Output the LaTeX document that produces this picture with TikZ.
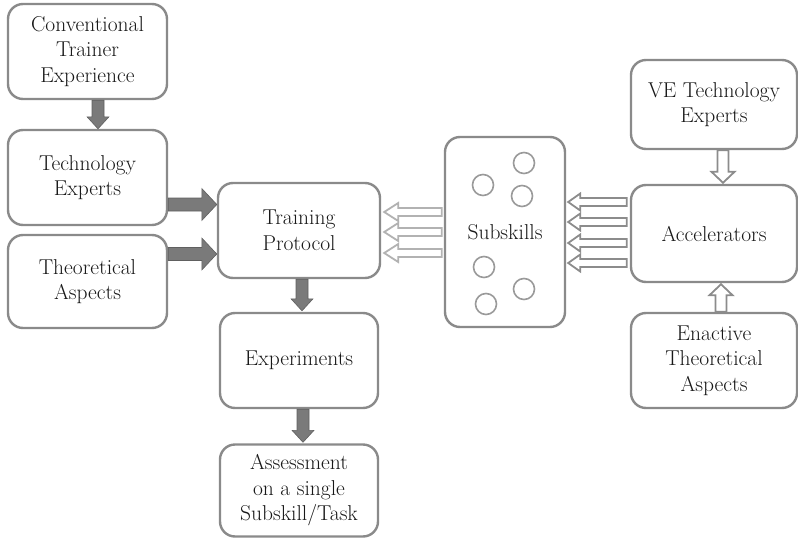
\documentclass[tikz,border=0pt]{standalone}
\usepackage{fontspec}
\usetikzlibrary{calc}
\definecolor{boxline}{HTML}{8A8A8A}
\definecolor{darkarrow}{HTML}{7A7A7A}
\definecolor{darkedge}{HTML}{606060}
\definecolor{midarrow}{HTML}{8C8C8C}
\definecolor{lightarrow}{HTML}{B2B2B2}
\definecolor{dotline}{HTML}{9A9A9A}
\definecolor{ink}{HTML}{181818}
\tikzset{
  % arrow outline: shaft half-width, head half-width, head length
  arrowshape/.style n args={3}{to path={
    let \p1=($(\tikztotarget)!#3!(\tikztostart)$) in
    ($(\tikztostart)!#1!90:(\tikztotarget)$)
    -- ($(\p1)!#1!90:(\tikztotarget)$)
    -- ($(\p1)!#2!90:(\tikztotarget)$)
    -- (\tikztotarget)
    -- ($(\p1)!#2!-90:(\tikztotarget)$)
    -- ($(\p1)!#1!-90:(\tikztotarget)$)
    -- ($(\tikztostart)!#1!-90:(\tikztotarget)$)
    -- cycle}},
  box/.style={draw=boxline, line width=2.4pt, rounded corners=15pt, fill=white,
    align=center, text=ink, font=\fontsize{21.5}{25.5}\selectfont, inner sep=0pt},
  solidH/.style={fill=darkarrow, draw=darkedge, line width=0.6pt, arrowshape={6.5pt}{16pt}{15pt}},
  solidV/.style={fill=darkarrow, draw=darkedge, line width=0.6pt, arrowshape={6pt}{11pt}{12pt}},
  hollowL/.style={fill=white, draw=lightarrow, line width=1.8pt, arrowshape={4pt}{9pt}{14pt}},
  hollowR/.style={fill=white, draw=midarrow, line width=1.8pt, arrowshape={4pt}{8.5pt}{12pt}},
  hollowV/.style={fill=white, draw=midarrow, line width=1.8pt, arrowshape={5.5pt}{11.5pt}{11pt}},
  dot/.style={circle, draw=dotline, line width=1.6pt, minimum size=21pt, inner sep=0pt},
}
\begin{document}
\begin{tikzpicture}[x=1pt, y=-1pt]
\useasboundingbox (0,0) rectangle (798,538);

% left column
\node[box, minimum width=159pt, minimum height=95pt] (conv) at (87.5,51.5) {Conventional\\Trainer\\Experience};
\node[box, minimum width=159pt, minimum height=95pt] (tech) at (87.5,177.5) {Technology\\Experts};
\node[box, minimum width=159pt, minimum height=93pt] (theor) at (87.5,281.5) {Theoretical\\Aspects};

% centre column
\node[box, minimum width=162pt, minimum height=95pt] (tp) at (299,230.5) {Training\\Protocol};
\node[box, minimum width=158pt, minimum height=95pt] (exp) at (299,360.5) {Experiments};
\node[box, minimum width=158pt, minimum height=92pt] (assess) at (299,490.5) {Assessment\\on a single\\Subskill/Task};

% subskills
\node[box, minimum width=120pt, minimum height=190pt] (sub) at (505,232) {Subskills};
\node[dot] (d1) at (483,185) {};
\node[dot] (d2) at (524,163) {};
\node[dot] (d3) at (522,196) {};
\node[dot] (d4) at (484,267) {};
\node[dot] (d5) at (486,304) {};
\node[dot] (d6) at (524,289) {};

% right column
\node[box, minimum width=166pt, minimum height=89pt] (ve) at (714,104.5) {VE Technology\\Experts};
\node[box, minimum width=166pt, minimum height=97pt] (acc) at (714,233.5) {Accelerators};
\node[box, minimum width=166pt, minimum height=95pt] (enact) at (714,360.5) {Enactive\\Theoretical\\Aspects};

% solid arrows
\coordinate (cv1) at (conv.south -| 98,0);
\coordinate (cv2) at (tech.north -| 98,0);
\draw[solidV] (cv1) to (cv2);
\coordinate (t1) at (tech.east |- 0,204.5);
\coordinate (t2) at (tp.west |- 0,204.5);
\draw[solidH] (t1) to (t2);
\coordinate (th1) at (theor.east |- 0,254);
\coordinate (th2) at (tp.west |- 0,254);
\draw[solidH] (th1) to (th2);
\coordinate (p1) at (tp.south -| 302,0);
\coordinate (p2) at ($(exp.north -| 302,0)+(0,-1)$);
\draw[solidV] (p1) to (p2);
\coordinate (e1) at (exp.south -| 303,0);
\coordinate (e2) at ($(assess.north -| 303,0)+(0,-1)$);
\draw[solidV] (e1) to (e2);

% subskills feed the training protocol
\foreach \yy [count=\i] in {212,232,253} {
  \coordinate (sl\i) at ($(sub.west |- 0,\yy)+(-2,0)$);
  \coordinate (tl\i) at ($(tp.east |- 0,\yy)+(3,0)$);
  \draw[hollowL] (sl\i) to (tl\i);
}

% accelerators act on the subskills
\foreach \yy [count=\i] in {202,222,243,263} {
  \coordinate (ar\i) at ($(acc.west |- 0,\yy)+(-3,0)$);
  \coordinate (sr\i) at ($(sub.east |- 0,\yy)+(2,0)$);
  \draw[hollowR] (ar\i) to (sr\i);
}

% inputs to the accelerators
\coordinate (v1) at (ve.south -| 723,0);
\coordinate (v2) at ($(acc.north -| 723,0)+(0,-1)$);
\draw[hollowV] (v1) to (v2);
\coordinate (n1) at (enact.north -| 721,0);
\coordinate (n2) at ($(acc.south -| 721,0)+(0,1)$);
\draw[hollowV] (n1) to (n2);
\end{tikzpicture}
\end{document}
